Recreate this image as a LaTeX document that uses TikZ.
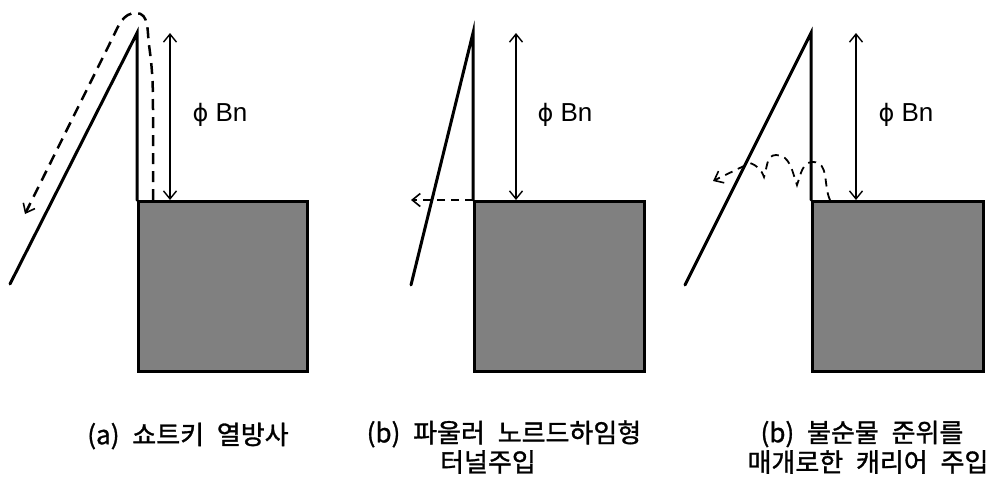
\documentclass[tikz,border=0pt]{standalone}
\usepackage{fontspec}
\setmainfont{Liberation Sans}
\newfontfamily\kr[WordSpace=2.2,FakeBold=1.2]{Noto Sans CJK KR}
\newfontfamily\phifont{DejaVu Sans}
\usetikzlibrary{arrows.meta}
\tikzset{
  solidline/.style={line width=3pt, line cap=round, line join=miter},
  metal/.style={line width=3pt, fill=black!50, draw=black},
  dimarrow/.style={line width=1.4pt, {Straight Barb[length=8pt,width=13pt,line width=1.4pt]}-{Straight Barb[length=8pt,width=13pt,line width=1.4pt]}},
  flow/.style={line width=2.5pt, dash pattern=on 11pt off 7pt, -{Straight Barb[length=8pt,width=13pt,line width=1.6pt]}},
  thinflow/.style={line width=1.8pt, dash pattern=on 8pt off 6pt, -{Straight Barb[length=8pt,width=13pt,line width=1.6pt]}},
  lbl/.style={font=\fontsize{26}{30}\selectfont, inner sep=0pt},
  captext/.style={font=\kr\fontsize{26}{30}\selectfont, inner sep=0pt}
}
\newcommand{\phib}{{\phifont\fontsize{24}{30}\selectfont ϕ}}
\begin{document}
\begin{tikzpicture}[x=1pt,y=-1pt]
\useasboundingbox (0,0) rectangle (1004,480);
% ---------- panel (a)
\coordinate (a0) at (10,284);
\coordinate (aT) at (137,33);
\coordinate (aC) at (137,200);
\node[metal, rectangle, minimum width=169pt, minimum height=170pt, anchor=north west, inner sep=0pt] (aBox) at (137,200) {};
\draw[solidline] (a0) -- (aT) -- (aC);
\coordinate (aU) at (170,33);
\coordinate (aD) at (170,200);
\draw[dimarrow] (aU) -- (aD);
\node[lbl] (aL) at (220,115) {\phib\ Bn};
\coordinate (aS) at (153,200);
\coordinate (aE) at (25,214);
\draw[flow] (aS) -- (153,110) to[out=90,in=-82] (149,45) to[out=98,in=0] (136,13) to[out=180,in=64] (113,37) -- (aE);
\node[captext] (aCap) at (188,436) {(a) 쇼트키 열방사};
% ---------- panel (b)
\coordinate (b0) at (411,285);
\coordinate (bT) at (473,33);
\coordinate (bC) at (473,200);
\node[metal, rectangle, minimum width=170pt, minimum height=170pt, anchor=north west, inner sep=0pt] (bBox) at (473,200) {};
\draw[solidline] (b0) -- (bT) -- (bC);
\coordinate (bU) at (516,33);
\coordinate (bD) at (516,200);
\draw[dimarrow] (bU) -- (bD);
\node[lbl] (bL) at (565,115) {\phib\ Bn};
\coordinate (bE) at (411,200);
\draw[thinflow] (bC) -- (bE);
\node[captext] (bCap1) at (504,434) {(b) 파울러 노르드하임형};
\node[captext] (bCap2) at (488,462) {터널주입};
% ---------- panel (c)
\coordinate (c0) at (685,285);
\coordinate (cT) at (811,33);
\coordinate (cC) at (811,200);
\node[metal, rectangle, minimum width=171pt, minimum height=170pt, anchor=north west, inner sep=0pt] (cBox) at (811,200) {};
\draw[solidline] (c0) -- (cT) -- (cC);
\coordinate (cU) at (856,33);
\coordinate (cD) at (856,200);
\draw[dimarrow] (cU) -- (cD);
\node[lbl] (cL) at (906,115) {\phib\ Bn};
\coordinate (cS) at (830,200);
\coordinate (cE) at (713,181);
\draw[thinflow] (cS) to[out=115,in=0] (813,162) to[out=180,in=70] (797,185) to[out=110,in=0] (776,155) to[out=180,in=70] (764,177) to[out=110,in=-20] (750,163) -- (cE);
\node[captext] (cCap1) at (862,434) {(b) 불순물 준위를};
\node[captext] (cCap2) at (868,462) {매개로한 캐리어 주입};
\end{tikzpicture}
\end{document}
